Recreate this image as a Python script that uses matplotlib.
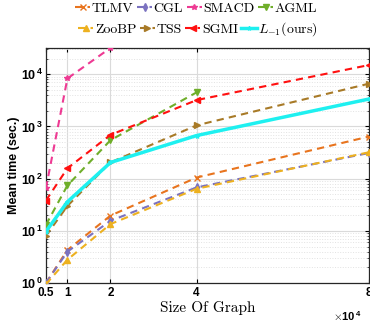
#!/usr/bin/env python3
"""Mean run time vs. graph size for several methods (log scale)."""

import numpy as np
import matplotlib
matplotlib.use('Agg')
import matplotlib.pyplot as plt
from matplotlib.ticker import NullFormatter, LogLocator

plt.rcParams['mathtext.fontset'] = 'custom'
plt.rcParams['mathtext.rm'] = 'cmr10'
plt.rcParams['mathtext.it'] = 'cmmi10'
plt.rcParams['mathtext.bf'] = 'Liberation Sans:bold'
plt.rcParams['mathtext.sf'] = 'Liberation Sans'
plt.rcParams['axes.unicode_minus'] = False

# graph sizes (number of nodes)
sizes = np.array([5000, 10000, 20000, 40000, 80000])

# mean time (sec.) per method
tlmv = [1.0, 4.3, 19.6, 105, 640]
cgl = [1.0, 4.0, 15.6, 68, 310]
smacd = [65, 8300, 32000]
agml = [13, 74, 545, 4500]
zoobp = [0.95, 2.8, 13.5, 64, 320]
tss = [8.0, 30, 205, 1050, 6600]
sgmi = [38, 158, 690, 3200, 15000]
ours = [9.7, 36, 204, 670, 3350]

x_ticks = [0.5, 1, 2, 4, 8]
y_tick_labels = [r'$\mathbf{10^{\,%d}}$' % k for k in range(5)]

series = [
    ('TLMV', tlmv, '#E8741E', 'x', '--'),
    ('CGL', cgl, '#7B72C0', 'd', '--'),
    ('SMACD', smacd, '#EE3A93', '*', '--'),
    ('AGML', agml, '#6FAE2A', 'v', '--'),
    ('ZooBP', zoobp, '#EDB120', '^', '--'),
    ('TSS', tss, '#A87A27', '>', '--'),
    ('SGMI', sgmi, '#FF1010', '<', '--'),
    (r'$L_{-1}$(ours)', ours, '#1EF0F0', '*', '-'),
]

fig = plt.figure(figsize=(3.70, 3.28), dpi=100)
ax = fig.add_axes([0.124, 0.137, 0.873, 0.717])

handles = []
for label, vals, color, marker, ls in series:
    x = sizes[:len(vals)] / 1e4
    if ls == '-':
        h, = ax.plot(x, vals, color=color, linestyle='-', linewidth=2.5,
                     marker=marker, markersize=3, label=label, zorder=5)
    else:
        h, = ax.plot(x, vals, color=color, linestyle=(0, (3.5, 2.5)),
                     linewidth=1.5, marker=marker, markersize=4.2,
                     label=label, zorder=4)
    handles.append(h)

ax.set_yscale('log')
ax.set_xlim(0.5, 8)
ax.set_ylim(1, 3.2e4)

ax.set_xticks(x_ticks)
ax.set_xticklabels(['0.5', '1', '2', '4', '8'], fontweight='bold',
                   fontsize=8.5, family='Liberation Sans')
ax.set_yticks([10 ** k for k in range(5)])
ax.set_yticklabels(y_tick_labels, fontsize=9)
ax.yaxis.set_minor_locator(LogLocator(base=10, subs=np.arange(2, 10)))
ax.yaxis.set_minor_formatter(NullFormatter())

ax.tick_params(which='both', direction='in', top=True, right=True)
ax.tick_params(which='major', length=3, width=0.8)
ax.tick_params(axis='x', which='major', pad=3)
ax.tick_params(axis='y', which='major', pad=2)
ax.tick_params(which='minor', length=1.5, width=0.5)
for s in ax.spines.values():
    s.set_linewidth(0.9)
    s.set_color('#262626')

ax.grid(True, which='major', color='#DADADA', linewidth=0.8)
ax.grid(True, which='minor', axis='y', color='#E2E2E2', linestyle=':',
        linewidth=0.7)
ax.set_axisbelow(True)

ax.set_xlabel('Size Of Graph', family='cmr10', fontsize=11, labelpad=1)
ax.set_ylabel('Mean time (sec.)', fontweight='bold', fontsize=9,
              family='Liberation Sans', labelpad=1)

fig.text(0.978, 0.015, r'$\times\mathbf{10^{\,4}}$', ha='right', va='bottom',
         fontsize=8)

leg_kw = dict(frameon=False, ncol=4, handlelength=1.1, handletextpad=0.1,
              columnspacing=0.25, borderaxespad=0,
              prop={'family': 'cmr10', 'size': 10})
leg1 = fig.legend(handles[:4], [s[0] for s in series[:4]],
                  loc='center', bbox_to_anchor=(0.53, 0.973), **leg_kw)
leg2 = fig.legend(handles[4:], [s[0] for s in series[4:]],
                  loc='center', bbox_to_anchor=(0.535, 0.91), **leg_kw)

fig.savefig('out.png', dpi=100)
